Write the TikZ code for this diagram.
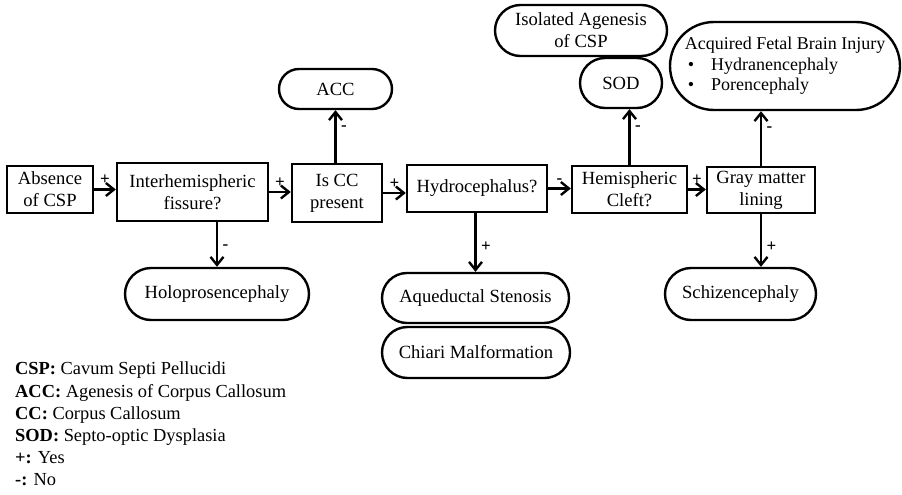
\documentclass[tikz,border=0pt]{standalone}
\usepackage{fontspec}
\setmainfont{Liberation Serif}
\usetikzlibrary{arrows.meta,calc}
\newcommand{\bitem}{\hspace*{3pt}\textbullet\hspace{17pt}}

\begin{document}
\begin{tikzpicture}[x=1pt,y=-1pt,
    every node/.style={font=\fontsize{18.6}{22}\selectfont, align=center, inner sep=0pt},
    box/.style 2 args={draw, line width=2.4pt, minimum width=#1, minimum height=#2},
    pill/.style 2 args={draw, line width=2.4pt, minimum width=#1, minimum height=#2, rounded corners=#2/2},
    arr/.style={line width=2.4pt, -{Straight Barb[length=8pt,width=13pt,line width=2.4pt]}},
    sgn/.style={font=\fontsize{17}{17}\selectfont\bfseries, inner sep=1.5pt}]
    \useasboundingbox (0,0) rectangle (902,495);
    %% main row
    \node[box={86}{47}] (csp) at (50,189.5) {Absence\\of CSP};
    \node[box={151}{58}] (ihf) at (192.5,192) {Interhemispheric\\fissure?};
    \node[box={90}{58}] (cc) at (337,193) {Is CC\\present};
    \node[box={140}{47}] (hyd) at (477,188.5) {Hydrocephalus?};
    \node[box={115}{47}] (hc) at (629.5,189.5) {Hemispheric\\Cleft?};
    \node[box={108}{46}] (gm) at (761,190) {Gray matter\\lining};
    %% outcomes above
    \node[pill={113}{40}] (acc) at (335.5,89) {ACC};
    \node[pill={172}{51}] (iso) at (581,30.5) {Isolated Agenesis\\of CSP};
    \node[pill={82}{50}] (sod) at (621,83) {SOD};
    \node[pill={230}{88}, align=left, font=\fontsize{18}{20.5}\selectfont] (afbi) at (785,66)
      {Acquired Fetal Brain Injury\\\bitem Hydranencephaly\\\bitem Porencephaly};
    %% outcomes below
    \node[pill={184}{52}] (holo) at (217,294) {Holoprosencephaly};
    \node[pill={187}{50}] (aqs) at (475.5,298) {Aqueductal Stenosis};
    \node[pill={188}{51}] (chm) at (476,352.5) {Chiari Malformation};
    \node[pill={151}{52}] (sch) at (740.5,294) {Schizencephaly};
    %% connectors
    \draw[arr] (csp.east) -- (csp.east -| ihf.west) node[sgn, midway, above=2pt] {+};
    \draw[arr] (ihf.east) -- (ihf.east -| cc.west) node[sgn, midway, above=2pt] {+};
    \draw[arr] (cc.east) -- (cc.east -| hyd.west) node[sgn, midway, above=2pt] {+};
    \draw[arr] (hyd.east) -- (hyd.east -| hc.west) node[sgn, midway, above=2pt] {-};
    \draw[arr] (hc.east) -- (hc.east -| gm.west) node[sgn, midway, above=2pt] {+};
    %%
    \draw[arr] (cc.north -| acc.south) -- (acc.south) node[sgn, pos=0.65, right=3pt] {-};
    \draw[arr] (hc.north) -- (hc.north |- sod.south) node[sgn, pos=0.66, right=3pt] {-};
    \draw[arr] (gm.north) -- (gm.north |- afbi.south) node[sgn, pos=0.68, right=3pt] {-};
    \draw[arr] (ihf.south -| holo.north) -- (holo.north) node[sgn, pos=0.57, right=3pt] {-};
    \draw[arr] (hyd.south -| aqs.north) -- (aqs.north) node[sgn, pos=0.57, right=3pt] {+};
    \draw[arr] (gm.south) -- (gm.south |- sch.north) node[sgn, pos=0.62, right=3pt] {+};
    %% key
    \node[anchor=north west, align=left, font=\fontsize{18.4}{22.2}\selectfont] (key) at (15,362)
      {\textbf{CSP:} Cavum Septi Pellucidi\\
       \textbf{ACC:} Agenesis of Corpus Callosum\\
       \textbf{CC:} Corpus Callosum\\
       \textbf{SOD:} Septo-optic Dysplasia\\
       \textbf{+:} Yes\\
       \textbf{-:} No};
\end{tikzpicture}
\end{document}
